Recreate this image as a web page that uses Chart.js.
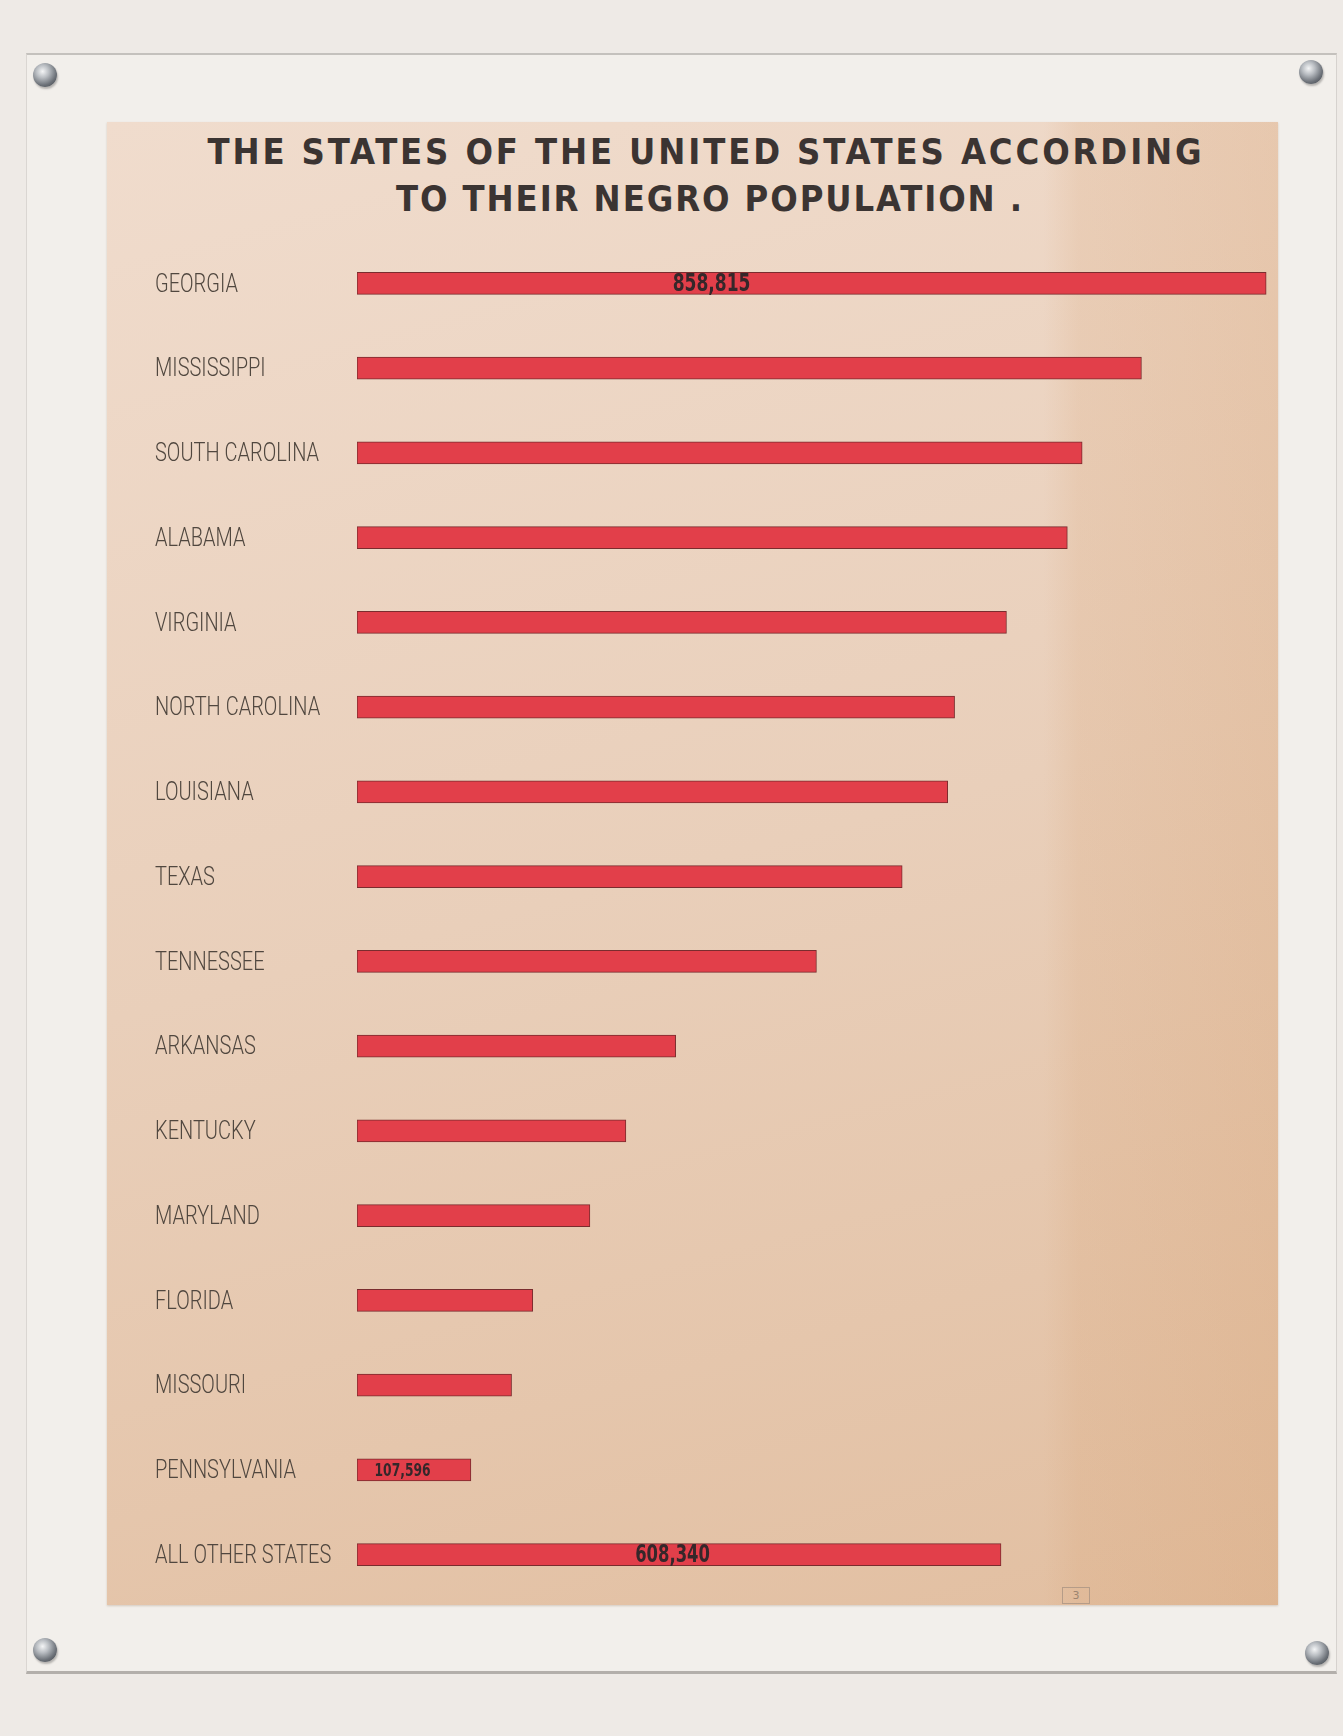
<!DOCTYPE html>
<html>
<head>
<meta charset="utf-8">
<script src="https://cdn.jsdelivr.net/npm/chart.js@4/dist/chart.umd.min.js"></script>
<style>
    html, body { margin: 0; padding: 0; }
    body {
        width: 1343px; height: 1736px; position: relative; overflow: hidden;
        background: #eeeae6;
    }
    #painel {
        position: absolute; left: 26px; top: 53px; width: 1311px; height: 1621px;
        box-sizing: border-box; background: #f2efeb;
        border-top: 2px solid #c4c1bd; border-bottom: 3px solid #b3afab;
        border-left: 1px solid #dad6d2; border-right: 1px solid #d6d2ce;
    }
    #papel {
        position: absolute; left: 107px; top: 122px; width: 1171px; height: 1483px;
        background:
            linear-gradient(90deg, rgba(215,160,112,0) 0%, rgba(215,160,112,0) 80%, rgba(215,160,112,0.18) 83%, rgba(212,155,105,0.26) 100%),
            linear-gradient(165deg, #f0dccd 0%, #e9cfba 50%, #e2bfa1 100%);
        box-shadow: 0 1px 2px rgba(120,90,60,0.25);
    }
    .parafuso {
        position: absolute; width: 24px; height: 24px; border-radius: 50%;
        background: radial-gradient(circle at 40% 35%, #f4f5f6 0, #b9bdc2 30%, #6b7077 65%, #3c3f44 100%);
        box-shadow: 1px 2px 2px rgba(0,0,0,0.25);
    }
    .linhaTitulo {
        position: absolute; white-space: nowrap; color: #3b3432;
        font-family: "DejaVu Sans Condensed", "Liberation Sans Narrow", sans-serif;
        font-weight: bold; font-size: 36px; line-height: 36px;
    }
    #marca {
        position: absolute; left: 1062px; top: 1587px; width: 26px; height: 15px;
        border: 1px solid #b59c88; color: #9c8470; font: 11px "DejaVu Sans", sans-serif;
        text-align: center; line-height: 15px;
    }
    canvas { position: absolute; left: 0; top: 0; }
</style>
</head>
<body>
<div id="painel"></div>
<div id="papel"></div>
<div class="parafuso" style="left:33px;top:63px"></div>
<div class="parafuso" style="left:1299px;top:60px"></div>
<div class="parafuso" style="left:33px;top:1638px"></div>
<div class="parafuso" style="left:1305px;top:1641px"></div>
<div class="linhaTitulo" id="titulo1" data-centro="706" data-largura="997" style="top:134px">THE STATES OF THE UNITED STATES ACCORDING</div>
<div class="linhaTitulo" id="titulo2" data-centro="710" data-largura="628" style="top:181px">TO THEIR NEGRO POPULATION .</div>
<div id="marca">3</div>
<canvas id="grafico" width="1343" height="1736"></canvas>
<script>
const estados = ['GEORGIA', 'MISSISSIPPI', 'SOUTH CAROLINA', 'ALABAMA', 'VIRGINIA', 'NORTH CAROLINA',
    'LOUISIANA', 'TEXAS', 'TENNESSEE', 'ARKANSAS', 'KENTUCKY', 'MARYLAND', 'FLORIDA', 'MISSOURI',
    'PENNSYLVANIA', 'ALL OTHER STATES'];
const populacao = [858815, 741000, 685000, 671000, 613500, 564500, 558000, 515000,
    434000, 301000, 254000, 220000, 166000, 146000, 107596, 608340];
const escalaMax = 870000;

// ajusta o espaçamento do título à largura do original
function ajustarTitulo() {
    document.querySelectorAll('.linhaTitulo').forEach(el => {
        const alvo = Number(el.dataset.largura);
        const centro = Number(el.dataset.centro);
        el.style.letterSpacing = '0px';
        const natural = el.getBoundingClientRect().width;
        const n = el.textContent.length;
        el.style.letterSpacing = ((alvo - natural) / n) + 'px';
        const w = el.getBoundingClientRect().width;
        el.style.left = (centro - w / 2) + 'px';
    });
}

// letras dos estados mais estreitas, como no desenho à mão
const ESTREITO = 0.8;
const eixoEstreito = {
    id: 'eixoEstreito',
    beforeDraw(chart) {
        const eixo = chart.scales.y;
        if (eixo._estreito) return;
        const original = eixo.drawLabels.bind(eixo);
        eixo.drawLabels = function (area) {
            const ctx = this.ctx;
            const r = this.right, w = this.width;
            // alarga a caixa do eixo para que o recorte não corte os nomes comprimidos
            this.right = this.left + (r - this.left) / ESTREITO;
            this.width = w / ESTREITO;
            ctx.save();
            ctx.translate(this.left, 2);
            ctx.scale(ESTREITO, 1);
            ctx.translate(-this.left, 0);
            original(area);
            ctx.restore();
            this.right = r;
            this.width = w;
        };
        eixo._estreito = true;
    }
};

// números escritos sobre algumas barras
const rotulosValor = {
    id: 'rotulosValor',
    afterDatasetsDraw(chart) {
        const ctx = chart.ctx;
        const meta = chart.getDatasetMeta(0);
        const valores = chart.data.datasets[0].data;
        const ajustes = { 0: { pos: 0.39, size: 25 }, 14: { pos: 0.40, size: 18 }, 15: { pos: 0.49, size: 24 } };
        meta.data.forEach((bar, i) => {
            const a = ajustes[i];
            if (!a) return;
            const x = bar.base + (bar.x - bar.base) * a.pos;
            ctx.save();
            ctx.translate(x, bar.y + 1);
            ctx.scale(0.76, 1);
            ctx.font = `bold ${a.size}px "DejaVu Sans Condensed", "Liberation Sans Narrow", sans-serif`;
            ctx.fillStyle = '#35272a';
            ctx.textAlign = 'center';
            ctx.textBaseline = 'middle';
            ctx.fillText(valores[i].toLocaleString('en-US'), 0, 0);
            ctx.restore();
        });
    }
};

function desenharGrafico() {
    new Chart(document.getElementById('grafico'), {
        type: 'bar',
        data: {
            labels: estados,
            datasets: [{
                data: populacao,
                backgroundColor: '#e23f4a',
                borderColor: '#7a2c2e',
                borderWidth: 1,
                borderSkipped: false,
                barThickness: 22
            }]
        },
        options: {
            indexAxis: 'y',
            responsive: false,
            animation: false,
            layout: { padding: { left: 155, right: 65, top: 241, bottom: 139 } },
            scales: {
                x: { display: false, min: 0, max: escalaMax },
                y: {
                    position: 'left',
                    grid: { display: false, drawTicks: false },
                    border: { display: false },
                    ticks: {
                        crossAlign: 'far',
                        padding: 0,
                        color: '#50473f',
                        font: { family: 'Roboto, "DejaVu Sans", sans-serif', size: 25, weight: '300' }
                    },
                    afterFit: s => { s.width = 202; }
                }
            },
            plugins: { legend: { display: false }, tooltip: { enabled: false } }
        },
        plugins: [eixoEstreito, rotulosValor]
    });
}

document.fonts.ready.then(() => {
    ajustarTitulo();
    desenharGrafico();
});
</script>
</body>
</html>
